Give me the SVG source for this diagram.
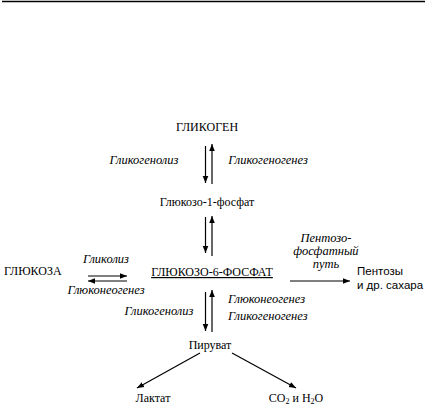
<svg xmlns="http://www.w3.org/2000/svg" width="427" height="406" viewBox="0 0 427 406" font-family="'Liberation Serif', 'DejaVu Serif', serif">
<defs>
<marker id="ah" viewBox="0 0 10 10" refX="10" refY="5" markerWidth="7" markerHeight="7" markerUnits="userSpaceOnUse" orient="auto"><path d="M0,1 L10,5 L0,9 Z" fill="#000"/></marker>
</defs>
<style>
text{font-family:'Liberation Serif','DejaVu Serif',serif;font-size:12px;fill:#000}
.c{text-anchor:middle}
.i{font-style:italic;font-size:12.5px}
.s{font-family:'Liberation Sans',Arial,sans-serif;font-size:11.5px}
line{stroke:#000;stroke-width:1.2}
.a{marker-end:url(#ah)}
</style>
<rect width="427" height="406" fill="#fff"/>
<line x1="2" y1="1.5" x2="425" y2="1.5" style="stroke-width:1.6"/>
<g id="glikogen"><text class="c" x="207" y="131">ГЛИКОГЕН</text></g>
<g id="g1f"><text class="c" x="207" y="206">Глюкозо-1-фосфат</text></g>
<g id="glukoza"><text x="4" y="275" font-size="11.5">ГЛЮКОЗА</text></g>
<g id="g6f"><text class="c" x="212" y="276" font-size="12.5" text-decoration="underline">ГЛЮКОЗО-6-ФОСФАТ</text></g>
<g id="pentozy"><text class="s" x="357" y="275">Пентозы</text><text class="s" x="357" y="289">и др. сахара</text></g>
<g id="piruvat"><text class="c" x="210" y="349">Пируват</text></g>
<g id="laktat"><text class="c" x="153" y="402">Лактат</text></g>
<g id="co2"><text class="c" x="296" y="402">CO<tspan font-size="8" dy="2">2</tspan><tspan dy="-2"> и H</tspan><tspan font-size="8" dy="2">2</tspan><tspan dy="-2">O</tspan></text></g>
<g id="connectors">
<line class="a" x1="205.5" y1="146" x2="205.5" y2="183"/>
<line class="a" x1="212" y1="184" x2="212" y2="144"/>
<text class="i c" x="144" y="164">Гликогенолиз</text>
<text class="i c" x="268" y="164">Гликогеногенез</text>
<line class="a" x1="205.5" y1="217" x2="205.5" y2="253"/>
<line class="a" x1="212" y1="256" x2="212" y2="216"/>
<line class="a" x1="88" y1="276" x2="127" y2="276"/>
<line class="a" x1="127" y1="281" x2="88" y2="281"/>
<text class="i c" x="106" y="263">Гликолиз</text>
<text class="i c" x="106" y="294">Глюконеогенез</text>
<line class="a" x1="290" y1="281" x2="350" y2="281"/>
<text class="i c" x="326" y="242">Пентозо-</text>
<text class="i c" x="326" y="255">фосфатный</text>
<text class="i c" x="326" y="268">путь</text>
<line class="a" x1="205.5" y1="292" x2="205.5" y2="331"/>
<line class="a" x1="212" y1="332" x2="212" y2="290"/>
<text class="i c" x="159" y="315">Гликогенолиз</text>
<text class="i" x="228" y="303">Глюконеогенез</text>
<text class="i" x="228" y="320">Гликогеногенез</text>
<line class="a" x1="200" y1="353" x2="137" y2="388"/>
<line class="a" x1="232" y1="353" x2="296" y2="388"/>
</g>
</svg>
